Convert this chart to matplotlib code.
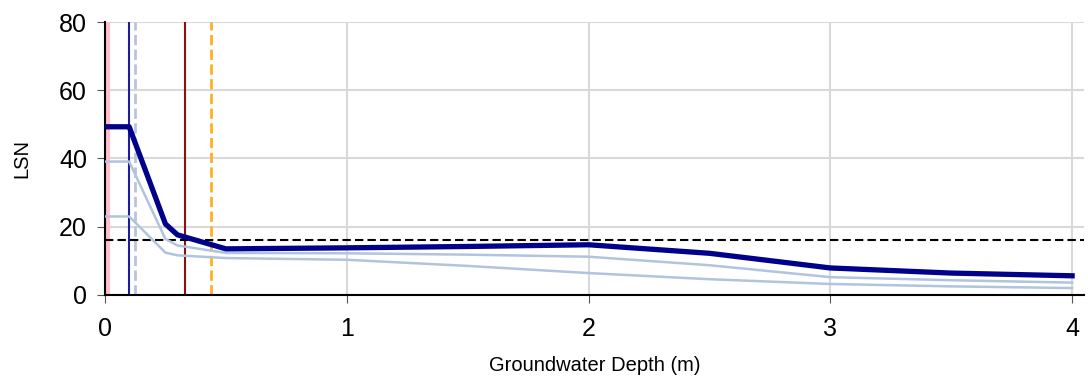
import matplotlib
matplotlib.use("Agg")
import matplotlib.pyplot as plt

plt.rcParams['font.family'] = ['Liberation Sans', 'DejaVu Sans']

# groundwater depth (m) and LSN values
depth = [0, 0.1, 0.25, 0.3, 0.5, 1, 1.5, 2, 2.5, 3, 3.5, 4]
lsn_main = [49.3, 49.3, 20.8, 17.6, 13.5, 13.8, 14.2, 14.7, 12.2, 7.9, 6.4, 5.6]
lsn_mid = [39.1, 39.1, 16.4, 14.5, 12.3, 12.2, 11.8, 11.2, 8.7, 5.2, 4.3, 3.6]
lsn_low = [23.0, 23.0, 12.4, 11.6, 10.8, 10.3, 8.5, 6.4, 4.6, 3.2, 2.5, 2.0]

threshold = 16
markers = [0.012, 0.1, 0.125, 0.33, 0.44]
marker_colors = ['#ffc0cb', '#1c1c9c', '#b8c4d8', '#8b1010', '#ffb020']
marker_styles = ['-', '-', '--', '-', '--']
marker_widths = [3, 1.5, 2, 1.5, 2]

fig = plt.figure(figsize=(10.88, 3.81), dpi=100)
ax = fig.add_axes([0.0965, 0.226, 0.9, 0.716])

for xv, c, ls, lw in zip(markers, marker_colors, marker_styles, marker_widths):
    ax.axvline(xv, color=c, linestyle=ls, linewidth=lw, zorder=2)

ax.axhline(threshold, color='black', linestyle=(0, (4, 2)), linewidth=1.5, zorder=3)

ax.plot(depth, lsn_low, color='#b0c4de', linewidth=1.8, zorder=4)
ax.plot(depth, lsn_mid, color='#b0c4de', linewidth=1.8, zorder=4)
ax.plot(depth, lsn_main, color='#00008b', linewidth=3.8, zorder=5)

ax.set_xlim(0, 4.05)
ax.set_ylim(0, 80)
ax.set_xticks([0, 1, 2, 3, 4])
ax.set_yticks([0, 20, 40, 60, 80])
ax.grid(True, color='#d9d9d9', linewidth=1.5)
ax.set_axisbelow(True)

for s in ['top', 'right']:
    ax.spines[s].set_visible(False)
ax.spines['left'].set_linewidth(1.5)
ax.spines['bottom'].set_linewidth(1.5)
ax.tick_params(axis='both', labelsize=18, length=6, color='#555555', pad=7)
ax.tick_params(axis='x', pad=10)

ax.set_xlabel('Groundwater Depth (m)', fontsize=14.5, labelpad=11)
ax.set_ylabel('LSN', fontsize=14.5, labelpad=20)

fig.savefig('out.png', dpi=100)
